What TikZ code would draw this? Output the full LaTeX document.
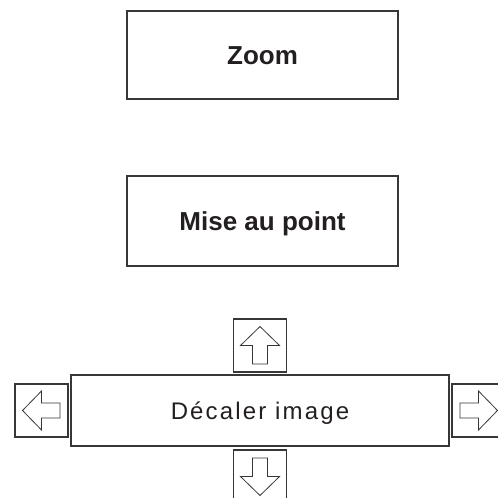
\documentclass[tikz,border=0pt]{standalone}
\usepackage{fontspec}
\setmainfont{Liberation Sans}
\usetikzlibrary{positioning}
\definecolor{framegray}{RGB}{55,55,55}
\definecolor{textblack}{RGB}{35,31,32}

\begin{document}
\begin{tikzpicture}[x=1pt,y=1pt,
  menubox/.style={draw=framegray,line width=1.1pt,inner sep=0pt,outer sep=0pt,
    text=textblack,text depth=0pt},
  keybox/.style={draw=framegray,line width=1.1pt,minimum size=53pt,
    inner sep=0pt,outer sep=0pt},
  pics/keyarrow/.style={code={
    \draw[framegray,line width=0.8pt,line join=miter]
      (0,19) -- (19.5,0) -- (7.5,0) -- (7.5,-18.5) -- (-7.5,-18.5)
      -- (-7.5,0) -- (-19.5,0) -- cycle;}}]
  \useasboundingbox (0,0) rectangle (498,498);
  % menu entries
  \node[menubox,minimum width=271pt,minimum height=88pt,text height=18.6pt,
    font=\fontsize{26}{30}\selectfont\bfseries] (zoom) at (262.5,443) {Zoom};
  \node[menubox,minimum width=271pt,minimum height=90pt,text height=18.6pt,
    font=\fontsize{26}{30}\selectfont\bfseries] (focus) at (262.5,277) {Mise au point};
  \node[menubox,minimum width=378pt,minimum height=71pt,text height=17.2pt,
    font=\fontsize{24}{28}\selectfont\addfontfeatures{LetterSpace=9}] (shift) at (260,87.5) {Décaler image};
  % arrow keys
  \node[keybox,above=3pt of shift] (up) {};
  \node[keybox,below=4pt of shift] (down) {};
  \node[keybox,left=3pt of shift] (left) {};
  \node[keybox,right=3pt of shift] (right) {};
  \pic at (up) {keyarrow};
  \pic[rotate=180] at (down) {keyarrow};
  \pic[rotate=90] at (left) {keyarrow};
  \pic[rotate=-90] at (right) {keyarrow};
\end{tikzpicture}
\end{document}
